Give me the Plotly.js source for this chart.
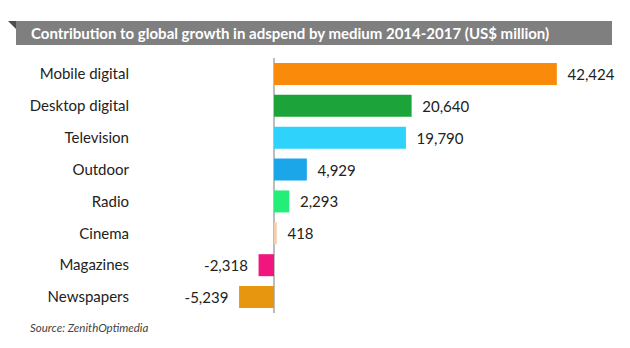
<!DOCTYPE html>
<html><head><meta charset="utf-8">
<script src="https://cdn.plot.ly/plotly-3.0.1.min.js"></script>
<style>html,body{margin:0;padding:0;background:#fff;}#chart{width:630px;height:348px;}</style>
</head><body><div id="chart"></div>
<script>
var categories = ["Mobile digital","Desktop digital","Television","Outdoor","Radio","Cinema","Magazines","Newspapers"];
var values = [42424, 20640, 19790, 4929, 2293, 418, -2318, -5239];
var barColors = ["#F98A0A","#1CA43A","#2ED2FA","#1BA6E9","#23EE78","#F3CFAE","#F0167E","#E6960F"];
var titleText = "Contribution to global growth in adspend by medium 2014-2017 (US$ million)";
var sourceText = "Source: ZenithOptimedia";

var labels = values.map(function(v){
  var s = Math.abs(v).toLocaleString('en-US');
  return v < 0 ? '-' + s + '\u00a0\u00a0' : '\u00a0\u00a0' + s;
});

var trace = {
  type: 'bar', orientation: 'h',
  x: values, y: categories,
  marker: {color: barColors, line: {width: 0}},
  text: labels, textposition: 'outside', cliponaxis: false,
  textfont: {family: 'Lato, sans-serif', size: 15, color: '#222'},
  hoverinfo: 'none'
};

var L = 194, R = 36, T = 58, B = 35, W = 630, H = 348;
var pw = W - L - R, ph = H - T - B;
function px(x){ return (x - L) / pw; }
function py(y){ return (H - B - y) / ph; }

var layout = {
  width: W, height: H,
  margin: {l: L, r: R, t: T, b: B, pad: 0},
  paper_bgcolor: '#fff', plot_bgcolor: '#fff',
  showlegend: false,
  bargap: 0.31,
  font: {family: 'Lato, sans-serif', color: '#222'},
  xaxis: {range: [-12000, 48000], showgrid: false, showticklabels: false, ticks: '',
          zeroline: true, zerolinecolor: '#bdbdbd', zerolinewidth: 1.5, showline: false, fixedrange: true},
  yaxis: {autorange: false, range: [7.5, -0.5], showgrid: false, zeroline: false, showline: false, ticks: '',
          tickfont: {family: 'Lato, sans-serif', size: 15, color: '#222'}, ticklabelstandoff: 64, fixedrange: true},
  shapes: [
    {type: 'rect', xref: 'paper', yref: 'paper', x0: px(16), x1: px(612), y0: py(45), y1: py(21),
     fillcolor: '#7f7f7f', line: {width: 0}},
    {type: 'path', xref: 'paper', yref: 'paper',
     path: 'M ' + px(8) + ' ' + py(21) + ' L ' + px(16) + ' ' + py(21) + ' L ' + px(16) + ' ' + py(29) + ' Z',
     fillcolor: '#4d4d4d', line: {width: 0}}
  ],
  annotations: [
    {xref: 'paper', yref: 'paper', x: px(29), y: py(33), xanchor: 'left', yanchor: 'middle', showarrow: false,
     text: '<b>' + titleText + '</b>', font: {family: 'Lato, sans-serif', size: 15, color: '#fff'}},
    {xref: 'paper', yref: 'paper', x: px(28), y: py(327), xanchor: 'left', yanchor: 'middle', showarrow: false,
     text: '<i>' + sourceText + '</i>', font: {family: 'Lato, sans-serif', size: 11.5, color: '#444'}}
  ]
};

Plotly.newPlot('chart', [trace], layout, {displayModeBar: false, staticPlot: true});
</script></body></html>
